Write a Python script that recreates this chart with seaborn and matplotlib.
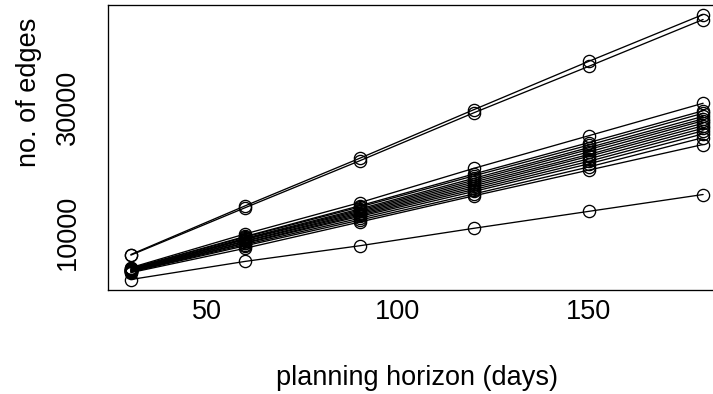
import matplotlib
matplotlib.use("Agg")
import matplotlib.pyplot as plt
import seaborn as sns
import pandas as pd

# planning horizons (days) at which the network was built
days = [30, 60, 90, 120, 150, 180]

# number of edges per instance, one list per instance
inst_01 = [6400, 14200, 21800, 29600, 37300, 44800]
inst_02 = [6300, 13900, 21400, 29100, 36500, 44000]
inst_03 = [4300, 9700, 14700, 20200, 25400, 30600]
inst_04 = [4200, 9300, 14200, 19300, 24300, 29400]
inst_05 = [4100, 9200, 14000, 19000, 23900, 29000]
inst_06 = [4000, 9000, 13700, 18600, 23500, 28500]
inst_07 = [3950, 8900, 13500, 18300, 23200, 28100]
inst_08 = [3900, 8800, 13300, 18000, 22800, 27800]
inst_09 = [3850, 8600, 13100, 17700, 22400, 27400]
inst_10 = [3800, 8500, 12900, 17400, 22100, 27000]
inst_11 = [3750, 8300, 12700, 17100, 21700, 26600]
inst_12 = [3700, 8200, 12500, 16800, 21300, 26200]
inst_13 = [3650, 8000, 12200, 16500, 20900, 25700]
inst_14 = [3600, 7800, 11900, 16100, 20400, 25100]
inst_15 = [3500, 7400, 11600, 15800, 19900, 24000]
inst_16 = [2400, 5300, 7800, 10600, 13300, 16000]

instances = [inst_01, inst_02, inst_03, inst_04, inst_05, inst_06, inst_07,
             inst_08, inst_09, inst_10, inst_11, inst_12, inst_13, inst_14,
             inst_15, inst_16]

y_ticks = [10000, 20000, 30000, 40000]
y_tick_labels = ["10000", "", "30000", ""]
x_ticks = [50, 100, 150]

rows = []
for k, vals in enumerate(instances):
    for d, v in zip(days, vals):
        rows.append({"instance": k, "days": d, "edges": v})
df = pd.DataFrame(rows)

sns.set_style("white")
plt.rcParams["font.family"] = ["Liberation Sans", "DejaVu Sans"]
plt.rcParams["text.color"] = "black"
plt.rcParams["axes.labelcolor"] = "black"
plt.rcParams["xtick.color"] = "black"
plt.rcParams["ytick.color"] = "black"

W, H = 713, 394
fig = plt.figure(figsize=(W / 100, H / 100), dpi=100)
left, right, top, bottom = 108, 726, 4.5, 290
ax = fig.add_axes([left / W, 1 - bottom / H, (right - left) / W, (bottom - top) / H])

sns.lineplot(data=df, x="days", y="edges", units="instance", estimator=None,
             color="black", linewidth=0.95, marker="o", markersize=8.8,
             markerfacecolor="none", markeredgecolor="black",
             markeredgewidth=0.95, ax=ax, legend=False)

ax.set_xlim(24, 186)
ax.set_ylim(720, 46400)
ax.set_xticks(x_ticks)
ax.set_xticklabels([str(t) for t in x_ticks])
ax.set_yticks(y_ticks)
ax.set_yticklabels(y_tick_labels, rotation=90, va="center")

for s in ax.spines.values():
    s.set_color("black")
    s.set_linewidth(0.95)

ax.tick_params(axis="both", direction="out", length=5.2, width=0.95,
               colors="black", labelsize=19.5)
ax.tick_params(axis="x", pad=1.5)
ax.tick_params(axis="y", pad=14.5)

ax.set_xlabel("planning horizon (days)", fontsize=19.5)
ax.set_ylabel("no. of edges", fontsize=19.5)
ax.xaxis.set_label_coords((417 - left) / (right - left), -(378 - bottom) / (bottom - top))
ax.yaxis.set_label_coords(-(108 - 29) / (right - left), (bottom - 92) / (bottom - top))
ax.xaxis.label.set_va("center")
ax.yaxis.label.set_va("center")

fig.savefig("out.png", dpi=100, facecolor="white")
